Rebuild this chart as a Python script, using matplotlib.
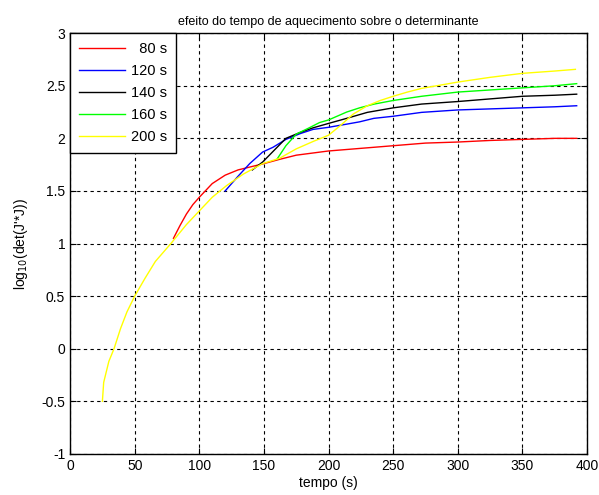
import numpy as np
import matplotlib
matplotlib.use("Agg")
import matplotlib.pyplot as plt

plt.rcParams['font.family'] = ['Liberation Sans', 'DejaVu Sans']

# curvas
t_80 = [80, 85, 90, 95, 100, 110, 120, 130, 140, 150, 162, 175, 200, 225, 250,
        275, 300, 325, 350, 375, 392]
d_80 = [1.05, 1.17, 1.28, 1.37, 1.44, 1.57, 1.65, 1.70, 1.73, 1.76, 1.80, 1.84,
        1.88, 1.905, 1.93, 1.955, 1.965, 1.98, 1.99, 2.0, 2.0]

t_120 = [120, 130, 139, 149, 157, 167, 178, 188, 200, 214, 224, 235, 250, 272,
         300, 325, 350, 375, 392]
d_120 = [1.50, 1.64, 1.76, 1.87, 1.915, 1.99, 2.045, 2.085, 2.105, 2.135, 2.157,
         2.19, 2.21, 2.247, 2.27, 2.28, 2.29, 2.30, 2.31]

t_140 = [141, 149, 159, 167, 178, 188, 200, 214, 230, 250, 272, 300, 325, 350,
         375, 392]
d_140 = [1.70, 1.775, 1.90, 2.0, 2.056, 2.10, 2.142, 2.19, 2.247, 2.29, 2.326,
         2.35, 2.375, 2.40, 2.41, 2.42]

t_160 = [160, 167, 175, 185, 193, 200, 214, 224, 235, 250, 272, 300, 325, 350,
         375, 392]
d_160 = [1.80, 1.93, 2.04, 2.10, 2.15, 2.175, 2.25, 2.29, 2.325, 2.36, 2.40,
         2.44, 2.46, 2.48, 2.50, 2.52]

t_200 = [25, 26, 30, 34, 39, 44, 50, 58, 66, 78, 90, 100, 110, 121, 134, 149,
         162, 175, 188, 200, 209, 219, 230, 240, 250, 261, 272, 300, 325, 350,
         375, 391]
d_200 = [-0.5, -0.32, -0.12, 0.0, 0.19, 0.35, 0.5, 0.67, 0.83, 1.0, 1.18, 1.31,
         1.44, 1.55, 1.66, 1.76, 1.81, 1.90, 1.97, 2.03, 2.12, 2.23, 2.31, 2.36,
         2.40, 2.44, 2.475, 2.535, 2.58, 2.618, 2.64, 2.656]

series = [
    (t_80, d_80, '  80 s', '#ff0000'),
    (t_120, d_120, '120 s', '#0000ff'),
    (t_140, d_140, '140 s', '#000000'),
    (t_160, d_160, '160 s', '#00ff00'),
    (t_200, d_200, '200 s', '#ffff00'),
]

fig = plt.figure(figsize=(5.99, 4.95), dpi=100)
ax = fig.add_axes([0.117, 0.083, 0.863, 0.850])

for t, d, lab, c in series:
    ax.plot(t, d, color=c, lw=1.0, label=lab)

ax.set_xlim(0, 400)
ax.set_ylim(-1, 3)
ax.set_xticks(np.arange(0, 401, 50))
ax.set_yticks(np.arange(-1, 3.01, 0.5))
ax.set_yticklabels(['-1', '-0.5', '0', '0.5', '1', '1.5', '2', '2.5', '3'])
ax.grid(True, color='black', linestyle=(0, (3, 3)), linewidth=0.8)
ax.tick_params(direction='in', length=4, top=True, right=True, labelsize=10)
for s in ax.spines.values():
    s.set_linewidth(1.0)

ax.set_title('efeito do tempo de aquecimento sobre o determinante', fontsize=9)
ax.set_xlabel('tempo (s)', fontsize=10, labelpad=2)
ax.set_ylabel("log$_{10}$(det(J'*J))", fontsize=10, labelpad=8)

leg = ax.legend(loc='upper left', fontsize=10.5, fancybox=False, framealpha=1,
                edgecolor='black', borderaxespad=0, handlelength=3.2,
                handletextpad=0.4, labelspacing=0.55, borderpad=0.6)
leg.get_frame().set_linewidth(1.0)

fig.savefig('out.png', dpi=100)
